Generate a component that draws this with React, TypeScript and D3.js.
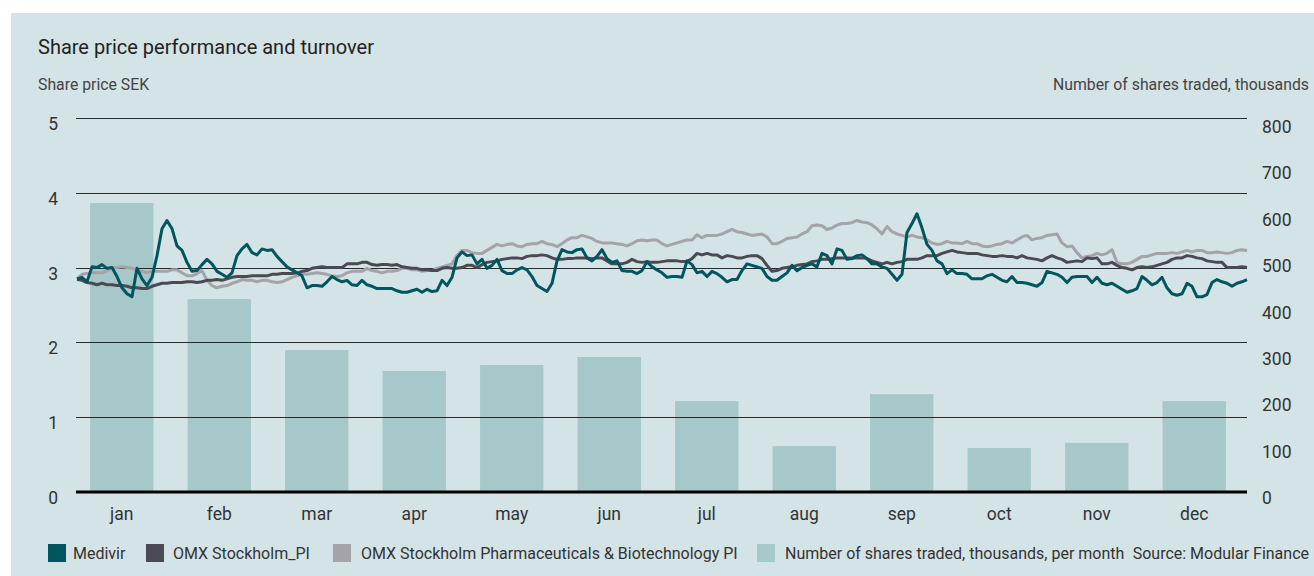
import * as d3 from 'd3';

const months = ['jan', 'feb', 'mar', 'apr', 'may', 'jun', 'jul', 'aug', 'sep', 'oct', 'nov', 'dec'];
// thousands of shares traded per month
const turnover = [623, 416, 306, 261, 274, 291, 196, 99, 211, 95, 106, 196];

const priceTicks = [0, 1, 2, 3, 4, 5];
const volumeTicks = [0, 100, 200, 300, 400, 500, 600, 700, 800];

// daily closing values, SEK
const medivir = [
  2.85, 2.87, 2.81, 3.01, 3.00, 3.04, 2.99, 3.00, 2.88, 2.73,
  2.65, 2.61, 2.99, 2.85, 2.76, 2.87, 3.16, 3.52, 3.63, 3.52,
  3.29, 3.23, 3.07, 2.95, 2.96, 3.04, 3.11, 3.05, 2.95, 2.91,
  2.87, 2.93, 3.16, 3.25, 3.31, 3.20, 3.17, 3.25, 3.23, 3.24,
  3.15, 3.08, 3.01, 2.97, 2.93, 2.89, 2.73, 2.76, 2.76, 2.75,
  2.81, 2.88, 2.84, 2.81, 2.83, 2.77, 2.76, 2.83, 2.77, 2.75,
  2.72, 2.72, 2.72, 2.72, 2.69, 2.67, 2.67, 2.69, 2.71, 2.67,
  2.71, 2.68, 2.69, 2.83, 2.76, 2.87, 3.13, 3.21, 3.16, 3.17,
  3.05, 3.11, 2.99, 3.03, 3.11, 2.96, 2.92, 2.92, 2.97, 3.00,
  2.97, 2.88, 2.76, 2.72, 2.68, 2.79, 3.09, 3.24, 3.21, 3.20,
  3.24, 3.25, 3.13, 3.09, 3.15, 3.24, 3.12, 3.07, 3.09, 2.96,
  2.95, 2.95, 2.92, 2.96, 3.08, 3.01, 2.97, 2.93, 2.87, 2.88,
  2.88, 2.87, 3.09, 3.04, 2.93, 2.95, 2.88, 2.95, 2.92, 2.87,
  2.81, 2.84, 2.84, 2.96, 3.05, 3.03, 3.01, 2.99, 2.88, 2.83,
  2.83, 2.88, 2.93, 3.03, 2.96, 3.00, 3.03, 3.05, 3.01, 3.19,
  3.16, 3.05, 3.25, 3.23, 3.11, 3.12, 3.16, 3.17, 3.12, 3.05,
  3.05, 3.01, 2.99, 2.91, 2.83, 2.91, 3.47, 3.59, 3.72, 3.53,
  3.31, 3.23, 3.09, 3.05, 2.92, 2.97, 2.92, 2.92, 2.91, 2.85,
  2.85, 2.85, 2.89, 2.91, 2.87, 2.83, 2.81, 2.88, 2.80, 2.80,
  2.79, 2.77, 2.75, 2.80, 2.95, 2.93, 2.91, 2.87, 2.80, 2.87,
  2.88, 2.88, 2.88, 2.80, 2.87, 2.79, 2.77, 2.79, 2.75, 2.71,
  2.67, 2.69, 2.72, 2.88, 2.83, 2.77, 2.80, 2.87, 2.73, 2.65,
  2.63, 2.65, 2.79, 2.75, 2.61, 2.61, 2.64, 2.80, 2.84, 2.81,
  2.79, 2.75, 2.79, 2.81, 2.84,
];

const omxPI = [
  2.84, 2.83, 2.80, 2.79, 2.77, 2.79, 2.77, 2.77, 2.76, 2.76,
  2.75, 2.73, 2.73, 2.72, 2.72, 2.75, 2.77, 2.79, 2.79, 2.80,
  2.80, 2.80, 2.81, 2.81, 2.80, 2.81, 2.83, 2.83, 2.84, 2.83,
  2.85, 2.87, 2.88, 2.88, 2.88, 2.89, 2.89, 2.89, 2.89, 2.91,
  2.91, 2.92, 2.92, 2.92, 2.93, 2.95, 2.96, 2.99, 3.00, 3.01,
  3.00, 3.00, 3.00, 3.00, 3.05, 3.05, 3.05, 3.07, 3.07, 3.04,
  3.03, 3.04, 3.04, 3.03, 3.04, 3.01, 3.00, 2.99, 2.99, 2.97,
  2.97, 2.96, 2.96, 2.99, 3.00, 2.99, 2.99, 3.00, 3.03, 3.03,
  3.00, 3.04, 3.07, 3.08, 3.09, 3.11, 3.12, 3.13, 3.13, 3.12,
  3.15, 3.16, 3.16, 3.17, 3.16, 3.13, 3.11, 3.11, 3.12, 3.12,
  3.13, 3.13, 3.13, 3.12, 3.13, 3.13, 3.09, 3.05, 3.05, 3.05,
  3.07, 3.11, 3.08, 3.07, 3.08, 3.07, 3.07, 3.08, 3.09, 3.09,
  3.09, 3.08, 3.08, 3.12, 3.19, 3.17, 3.19, 3.17, 3.17, 3.13,
  3.16, 3.15, 3.13, 3.13, 3.15, 3.16, 3.16, 3.12, 3.03, 2.95,
  2.96, 2.99, 3.00, 3.01, 3.03, 3.04, 3.05, 3.08, 3.09, 3.11,
  3.11, 3.12, 3.13, 3.13, 3.13, 3.13, 3.13, 3.13, 3.12, 3.09,
  3.07, 3.05, 3.07, 3.05, 3.07, 3.08, 3.11, 3.11, 3.11, 3.13,
  3.16, 3.16, 3.16, 3.19, 3.21, 3.23, 3.21, 3.20, 3.19, 3.19,
  3.19, 3.17, 3.16, 3.15, 3.15, 3.16, 3.15, 3.15, 3.13, 3.16,
  3.13, 3.12, 3.11, 3.09, 3.13, 3.16, 3.13, 3.11, 3.07, 3.08,
  3.09, 3.08, 3.13, 3.12, 3.13, 3.05, 3.05, 3.07, 3.03, 3.00,
  2.99, 2.97, 3.00, 3.01, 3.00, 3.01, 3.03, 3.05, 3.07, 3.11,
  3.13, 3.13, 3.16, 3.15, 3.13, 3.12, 3.09, 3.08, 3.07, 3.07,
  3.00, 3.00, 3.00, 3.01, 3.00,
];

const omxPharma = [
  2.85, 2.91, 2.92, 2.93, 2.93, 2.93, 2.96, 2.99, 3.00, 3.01,
  3.00, 2.99, 2.97, 2.95, 2.93, 2.95, 2.95, 2.95, 2.95, 2.97,
  2.97, 2.93, 2.89, 2.89, 2.92, 2.96, 2.83, 2.76, 2.73, 2.75,
  2.76, 2.79, 2.81, 2.84, 2.83, 2.83, 2.81, 2.83, 2.83, 2.81,
  2.80, 2.81, 2.84, 2.87, 2.89, 2.92, 2.91, 2.92, 2.93, 2.92,
  2.91, 2.89, 2.88, 2.89, 2.93, 2.95, 2.95, 2.95, 2.99, 2.96,
  2.95, 2.93, 2.95, 2.95, 2.96, 2.99, 2.99, 2.97, 2.97, 2.95,
  2.96, 2.96, 2.99, 3.01, 3.03, 3.05, 3.16, 3.23, 3.23, 3.20,
  3.19, 3.19, 3.23, 3.27, 3.31, 3.29, 3.31, 3.32, 3.29, 3.28,
  3.31, 3.32, 3.32, 3.35, 3.32, 3.31, 3.28, 3.32, 3.37, 3.40,
  3.40, 3.43, 3.41, 3.39, 3.35, 3.33, 3.33, 3.33, 3.32, 3.31,
  3.29, 3.32, 3.36, 3.37, 3.36, 3.37, 3.37, 3.32, 3.29, 3.31,
  3.33, 3.35, 3.37, 3.37, 3.44, 3.40, 3.43, 3.43, 3.43, 3.45,
  3.48, 3.51, 3.48, 3.47, 3.45, 3.43, 3.44, 3.45, 3.41, 3.32,
  3.32, 3.35, 3.39, 3.40, 3.41, 3.45, 3.48, 3.56, 3.57, 3.56,
  3.51, 3.53, 3.57, 3.59, 3.59, 3.60, 3.63, 3.61, 3.60, 3.57,
  3.52, 3.45, 3.55, 3.48, 3.45, 3.43, 3.41, 3.43, 3.41, 3.40,
  3.37, 3.33, 3.31, 3.32, 3.35, 3.33, 3.33, 3.32, 3.35, 3.32,
  3.32, 3.29, 3.28, 3.29, 3.31, 3.32, 3.35, 3.33, 3.37, 3.41,
  3.43, 3.37, 3.39, 3.40, 3.43, 3.44, 3.45, 3.33, 3.28, 3.29,
  3.20, 3.13, 3.15, 3.16, 3.19, 3.17, 3.19, 3.24, 3.07, 3.05,
  3.05, 3.07, 3.11, 3.15, 3.15, 3.17, 3.19, 3.19, 3.19, 3.20,
  3.19, 3.21, 3.23, 3.21, 3.23, 3.23, 3.20, 3.20, 3.21, 3.20,
  3.19, 3.20, 3.23, 3.24, 3.23,
];

const legendItems = [
  { label: 'Medivir', color: '#00565e' },
  { label: 'OMX Stockholm_PI', color: '#4b4a52' },
  { label: 'OMX Stockholm Pharmaceuticals & Biotechnology PI', color: '#a3a3a8' },
  { label: 'Number of shares traded, thousands, per month', color: '#a6c8ca' },
];

const W = 1314;
const H = 576;
const FONT = 'Roboto, "Noto Sans", sans-serif';

export default function App() {
  const left = 77;
  const right = 1247;
  const base = 492;

  const x = d3.scaleBand<string>()
    .domain(months)
    .range([left - 4, right - 4])
    .paddingInner(0.35)
    .paddingOuter(0.175);

  const yPrice = d3.scaleLinear().domain([0, 5]).range([base, 118]);
  const yVol = d3.scaleLinear().domain([0, 800]).range([base, 121]);

  const series = [
    { data: omxPharma, color: legendItems[2].color },
    { data: omxPI, color: legendItems[1].color },
    { data: medivir, color: legendItems[0].color },
  ];

  const lineFor = (data: number[]) => {
    const xd = d3.scaleLinear().domain([0, data.length - 1]).range([left, right]);
    return d3.line<number>()
      .x((_, i) => xd(i))
      .y(d => yPrice(d))(data) as string;
  };

  // legend layout
  const legendX = [48, 146, 333, 757];
  const legendTextX = [73, 173, 361, 785];
  const legendY = 544;

  return (
    <svg width={W} height={H} style={{ position: 'absolute', left: 0, top: 0 }} fontFamily={FONT}>
      <rect x={0} y={0} width={W} height={H} fill="#ffffff" />
      <rect x={11} y={13} width={W - 11} height={H - 13} fill="#d4e3e6" />

      <text x={38} y={54} fontSize={20} fill="#222">Share price performance and turnover</text>
      <text x={38} y={90} fontSize={15.8} fill="#444">Share price SEK</text>
      <text x={1309} y={90} fontSize={15.8} fill="#444" textAnchor="end">Number of shares traded, thousands</text>

      {turnover.map((v, i) => (
        <rect key={months[i]} x={x(months[i])} y={yVol(v)} width={x.bandwidth()} height={base - yVol(v)} fill={legendItems[3].color} />
      ))}

      {priceTicks.filter(t => t > 0).map(t => (
        <line key={t} x1={left - 1} x2={right} y1={Math.round(yPrice(t)) + 0.5} y2={Math.round(yPrice(t)) + 0.5} stroke="#2a2a2a" strokeWidth={1} />
      ))}

      {series.map((s, i) => (
        <path key={i} d={lineFor(s.data)} fill="none" stroke={s.color} strokeWidth={3} strokeLinejoin="round" />
      ))}

      <line x1={left - 1} x2={right} y1={base} y2={base} stroke="#000" strokeWidth={3} />

      {priceTicks.map(t => (
        <text key={t} x={58} y={yPrice(t) + 12} fontSize={17.5} fill="#333" textAnchor="end">{t}</text>
      ))}
      {volumeTicks.map(t => (
        <text key={t} x={1262} y={yVol(t) + 12} fontSize={17.5} fill="#333">{t}</text>
      ))}

      {months.map(m => (
        <text key={m} x={(x(m) as number) + x.bandwidth() / 2} y={520} fontSize={17.5} fill="#333" textAnchor="middle">{m}</text>
      ))}

      {legendItems.map((it, i) => (
        <g key={it.label}>
          <rect x={legendX[i]} y={legendY} width={18} height={18} fill={it.color} />
          <text x={legendTextX[i]} y={legendY + 15} fontSize={16} fill="#333">{it.label}</text>
        </g>
      ))}
      <text x={1309} y={legendY + 15} fontSize={16} fill="#333" textAnchor="end">Source: Modular Finance</text>
    </svg>
  );
}
